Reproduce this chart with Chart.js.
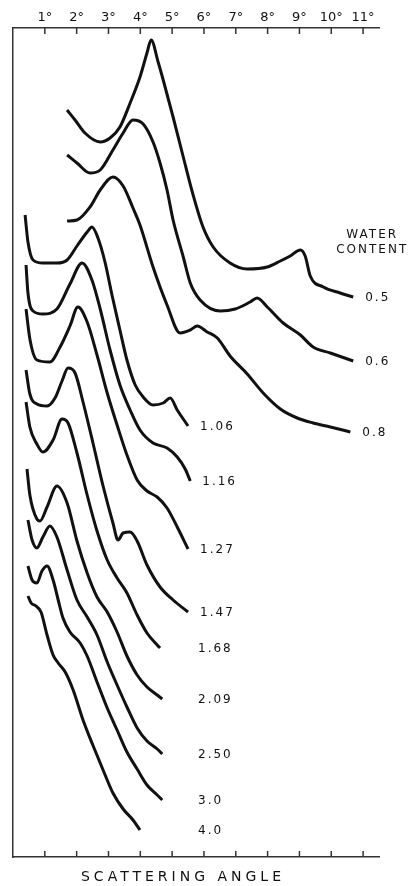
<!DOCTYPE html>
<html>
<head>
<meta charset="utf-8">
<title>Scattering angle vs water content</title>
<script src="https://cdn.jsdelivr.net/npm/chart.js@4.4.1/dist/chart.umd.min.js"></script>
<style>
  html, body { margin: 0; padding: 0; background: #fff; }
  #wrap { width: 408px; height: 886px; }
</style>
</head>
<body>
<div id="wrap"><canvas id="scatterChart"></canvas></div>
<script>
// [angle in degrees, intensity] - each trace is shifted upward so they stack
const tickAngles = [1, 2, 3, 4, 5, 6, 7, 8, 9, 10, 11];
const waterContent = ["0.5", "0.6", "0.8", "1.06", "1.16", "1.27", "1.47", "1.68", "2.09", "2.50", "3.0", "4.0"];

const trace05 = [[1.70,74.7],[1.95,73.7],[2.26,72.4],[2.74,71.5],[3.05,71.9],[3.36,73.0],[3.68,75.4],[3.99,78.0],[4.21,80.4],[4.34,81.7],[4.56,79.5],[4.72,77.7],[5.03,74.0],[5.35,70.0],[5.66,66.2],[5.97,63.0],[6.29,61.0],[6.82,59.4],[7.36,58.8],[7.99,59.0],[8.40,59.6],[8.71,60.1],[9.03,60.7],[9.18,60.1],[9.34,58.1],[9.75,57.0],[10.28,56.4],[10.69,56.0]];
const trace06 = [[1.70,70.2],[2.01,69.4],[2.42,68.4],[2.74,68.7],[3.14,70.7],[3.46,72.4],[3.77,73.7],[4.09,73.3],[4.40,71.5],[4.62,69.4],[4.84,66.7],[5.03,63.7],[5.35,60.0],[5.57,57.4],[5.88,55.7],[6.51,54.6],[6.98,54.8],[7.45,55.5],[7.67,55.9],[7.99,55.0],[8.49,53.4],[9.03,52.2],[9.43,51.0],[9.97,50.4],[10.69,49.6]];
const trace08 = [[1.70,63.6],[2.01,63.7],[2.42,65.0],[2.74,66.7],[3.14,68.0],[3.46,67.1],[3.77,64.9],[3.99,63.2],[4.40,59.0],[4.84,55.2],[5.25,52.4],[5.57,52.7],[5.79,53.1],[6.10,52.5],[6.42,51.9],[6.82,50.1],[7.36,48.3],[7.86,46.4],[8.40,44.8],[8.93,43.9],[9.43,43.4],[9.97,43.0],[10.60,42.5]];
const trace106 = [[0.38,64.2],[0.47,61.5],[0.63,59.7],[0.94,59.4],[1.38,59.4],[1.70,59.7],[2.01,61.1],[2.33,62.5],[2.48,63.0],[2.67,61.9],[2.89,59.5],[3.11,56.2],[3.36,52.7],[3.58,49.7],[3.84,47.2],[4.09,46.0],[4.40,45.2],[4.72,45.4],[4.94,45.9],[5.16,44.7],[5.50,43.1]];
const trace116 = [[0.41,59.2],[0.47,56.4],[0.63,54.6],[0.94,54.3],[1.38,54.8],[1.79,57.3],[2.17,59.4],[2.48,57.7],[2.74,54.8],[3.05,50.7],[3.36,47.2],[3.68,44.7],[3.99,42.7],[4.40,41.4],[4.84,40.9],[5.16,40.0],[5.41,38.8],[5.57,37.6]];
const trace127 = [[0.41,54.8],[0.53,51.8],[0.75,49.7],[1.16,49.5],[1.48,51.0],[1.79,53.1],[2.04,55.0],[2.33,53.5],[2.64,50.2],[2.96,46.4],[3.27,43.2],[3.58,40.2],[3.90,37.7],[4.21,36.6],[4.53,36.0],[4.84,34.9],[5.16,33.0],[5.50,30.8]];
const trace147 = [[0.41,48.7],[0.53,46.3],[0.75,45.3],[1.07,45.1],[1.32,45.9],[1.54,47.6],[1.73,48.9],[1.95,48.4],[2.20,45.5],[2.52,41.3],[2.83,37.1],[3.14,33.4],[3.30,31.7],[3.46,32.4],[3.68,32.5],[3.90,31.6],[4.21,29.2],[4.62,27.0],[5.03,25.7],[5.50,24.5]];
const trace168 = [[0.41,45.5],[0.53,43.0],[0.75,41.3],[0.94,40.5],[1.26,41.7],[1.54,43.8],[1.73,43.4],[2.01,40.4],[2.33,36.2],[2.64,32.6],[2.96,29.7],[3.27,27.9],[3.58,26.4],[3.90,24.2],[4.21,22.4],[4.53,21.2],[4.62,20.9]];
const trace209 = [[0.44,38.8],[0.53,36.2],[0.75,33.8],[0.85,33.6],[1.07,35.0],[1.38,37.1],[1.70,35.4],[2.01,31.6],[2.33,28.4],[2.64,26.0],[2.96,24.5],[3.27,22.5],[3.58,20.1],[3.90,18.2],[4.21,17.0],[4.53,16.2],[4.69,15.8]];
const trace250 = [[0.47,33.7],[0.60,31.7],[0.75,30.9],[0.94,32.0],[1.16,33.1],[1.38,32.0],[1.70,28.7],[2.01,25.7],[2.33,24.0],[2.64,22.2],[2.96,19.5],[3.27,17.2],[3.58,15.0],[3.90,12.9],[4.21,11.6],[4.53,10.8],[4.69,10.3]];
const trace30 = [[0.47,29.1],[0.60,27.7],[0.75,27.4],[0.91,28.6],[1.07,29.1],[1.26,27.7],[1.42,25.7],[1.57,23.9],[1.79,22.5],[2.11,21.4],[2.33,20.1],[2.64,17.5],[2.96,14.9],[3.27,12.7],[3.58,10.5],[3.90,8.8],[4.21,7.2],[4.53,6.2],[4.69,5.7]];
const trace40 = [[0.47,26.1],[0.57,25.4],[0.72,25.1],[0.88,24.5],[1.07,22.2],[1.26,20.2],[1.42,19.4],[1.64,18.5],[1.89,16.7],[2.20,13.7],[2.52,11.1],[2.83,8.7],[3.14,6.4],[3.46,4.8],[3.77,3.7],[3.99,2.7]];

const traces = [trace05, trace06, trace08, trace106, trace116, trace127, trace147, trace168, trace209, trace250, trace30, trace40];

const ink = "#111";

// small inward ticks on the top and bottom angle axes
const innerTicks = {
    id: "innerTicks",
    afterDraw(c) {
        const { ctx, chartArea } = c;
        const xs = c.scales.x;
        ctx.save();
        ctx.strokeStyle = "#333";
        ctx.lineWidth = 1.5;
        tickAngles.forEach(a => {
            const px = xs.getPixelForValue(a);
            ctx.beginPath();
            ctx.moveTo(px, chartArea.top);
            ctx.lineTo(px, chartArea.top + 6);
            ctx.moveTo(px, chartArea.bottom);
            ctx.lineTo(px, chartArea.bottom - 6);
            ctx.stroke();
        });
        ctx.restore();
    }
};

// water content written at the end of each trace, plus the headings
const traceLabels = {
    id: "traceLabels",
    afterDatasetsDraw(c) {
        const ctx = c.ctx;
        ctx.save();
        ctx.fillStyle = ink;
        ctx.font = "12px 'DejaVu Sans'";
        ctx.letterSpacing = "2px";
        ctx.textBaseline = "middle";
        let headX = 0, headY = 0;
        c.data.datasets.forEach((ds, i) => {
            const pts = c.getDatasetMeta(i).data;
            const end = pts[pts.length - 1];
            const x = Math.max(end.x + 12, 198);
            ctx.fillText(ds.label, x, end.y + 1);
            if (i === 0) {
                headX = x + 7;
                headY = end.y;
            }
        });
        ctx.textAlign = "center";
        ctx.fillText("WATER", headX, headY - 62);
        ctx.fillText("CONTENT", headX, headY - 47);

        ctx.font = "14px 'DejaVu Sans'";
        ctx.letterSpacing = "4px";
        ctx.fillText("SCATTERING ANGLE", 183, 877);
        ctx.restore();
    }
};

const initChart = () => {
    const ctx = document.getElementById("scatterChart").getContext("2d");

    new Chart(ctx, {
        type: "line",
        data: {
            datasets: traces.map((t, i) => ({
                label: waterContent[i],
                data: t.map(p => ({ x: p[0], y: p[1] })),
                borderColor: ink,
                borderWidth: 3,
                pointRadius: 0,
                cubicInterpolationMode: "monotone",
                fill: false
            }))
        },
        options: {
            responsive: true,
            maintainAspectRatio: false,
            animation: false,
            layout: { padding: { left: 0, right: 29, top: 0, bottom: 0 } },
            plugins: {
                legend: { display: false },
                tooltip: { enabled: false }
            },
            scales: {
                x: {
                    type: "linear",
                    position: "top",
                    min: 0,
                    max: 11.5,
                    afterFit: s => { s.height = 28; },
                    afterBuildTicks: s => { s.ticks = tickAngles.map(v => ({ value: v })); },
                    ticks: {
                        color: "#111",
                        padding: 3,
                        maxRotation: 0,
                        font: { family: "DejaVu Sans", size: 13 },
                        callback: v => v + "°"
                    },
                    grid: { display: false, drawTicks: false },
                    border: { display: true, color: "#333", width: 1.5 }
                },
                x2: {
                    type: "linear",
                    position: "bottom",
                    min: 0,
                    max: 11.5,
                    afterFit: s => { s.height = 29; },
                    ticks: { display: false },
                    grid: { display: false, drawTicks: false },
                    border: { display: true, color: "#333", width: 1.5 }
                },
                y: {
                    type: "linear",
                    position: "left",
                    min: 0,
                    max: 82.9,
                    afterFit: s => { s.width = 13; },
                    ticks: { display: false },
                    grid: { display: false, drawTicks: false },
                    border: { display: true, color: "#333", width: 1.5 }
                }
            }
        },
        plugins: [innerTicks, traceLabels]
    });
};

window.addEventListener("load", () => {
    initChart();
});
</script>
</body>
</html>
